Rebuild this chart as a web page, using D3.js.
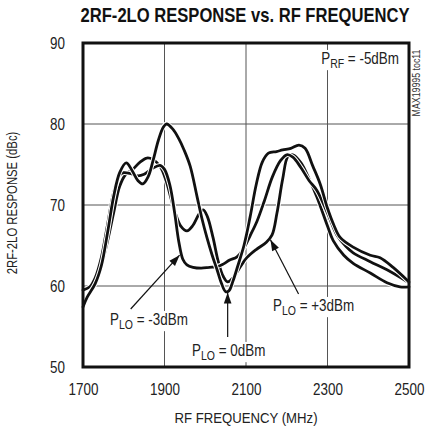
<!DOCTYPE html>
<html>
<head>
<meta charset="utf-8">
<script src="https://cdn.jsdelivr.net/npm/d3@7/dist/d3.min.js"></script>
<style>
  html, body { margin: 0; padding: 0; background: #fff; }
  svg { display: block; }
  text { font-family: "Liberation Sans", Arial, sans-serif; fill: #222; }
</style>
</head>
<body>
<svg id="chart" width="425" height="431"></svg>
<script>
// 2RF-2LO spur response vs RF frequency, PRF = -5dBm, three LO drive levels
const xTicks = [1700, 1900, 2100, 2300, 2500];
const yTicks = [50, 60, 70, 80, 90];

// PLO = 0dBm
const freq0dBm = [1700, 1710, 1730, 1745, 1760, 1775, 1790, 1806, 1820, 1835, 1847, 1860, 1872, 1885, 1897, 1905,
  1920, 1935, 1948, 1963, 1980, 1992, 2004, 2017, 2029, 2040, 2050, 2058, 2068, 2080, 2095, 2110, 2125, 2140, 2155,
  2175, 2190, 2210, 2230, 2245, 2264, 2282, 2300, 2315, 2331, 2363, 2405, 2429, 2461, 2500];
const resp0dBm = [57.4, 58.6, 60.3, 62.5, 66.5, 71.0, 74.0, 75.2, 74.3, 73.0, 72.6, 73.5, 75.5, 78.0, 79.6, 80.0,
  79.4, 78.2, 76.8, 74.8, 71.0, 68.3, 66.0, 63.8, 62.0, 60.3, 59.3, 59.4, 60.6, 62.5, 65.0, 68.5, 72.5, 75.3, 76.4,
  76.6, 76.8, 77.0, 77.4, 77.0, 74.8, 72.6, 69.6, 67.6, 66.0, 64.8, 63.8, 63.5, 62.3, 60.5];

// PLO = -3dBm
const freqM3dBm = [1700, 1717, 1730, 1745, 1760, 1775, 1790, 1800, 1815, 1835, 1850, 1870, 1889, 1900, 1913, 1925,
  1935, 1945, 1955, 1970, 1990, 2010, 2030, 2044, 2060, 2078, 2095, 2110, 2127, 2145, 2165, 2185, 2200, 2215, 2235,
  2255, 2274, 2300, 2323, 2345, 2363, 2405, 2446, 2500];
const respM3dBm = [59.5, 59.9, 61.0, 63.5, 67.5, 71.5, 73.7, 74.0, 73.9, 73.6, 73.8, 74.5, 74.9, 74.4, 72.5, 69.0,
  65.5, 63.3, 62.6, 62.3, 62.2, 62.3, 62.4, 62.7, 63.2, 63.6, 64.7, 66.2, 68.0, 70.5, 73.5, 75.5, 76.2, 75.9, 74.6,
  73.0, 71.8, 69.0, 66.3, 64.9, 64.1, 63.0, 62.0, 60.4];

// PLO = +3dBm
const freqP3dBm = [1700, 1717, 1730, 1745, 1760, 1775, 1790, 1805, 1820, 1840, 1857, 1872, 1889, 1904, 1915, 1928,
  1940, 1955, 1970, 1985, 1995, 2005, 2019, 2032, 2044, 2055, 2068, 2085, 2102, 2125, 2150, 2164, 2176, 2190, 2203,
  2215, 2235, 2255, 2274, 2300, 2314, 2340, 2363, 2405, 2446, 2478, 2500];
const respP3dBm = [59.5, 59.8, 60.5, 62.5, 65.5, 69.0, 72.3, 73.8, 74.3, 75.3, 75.8, 75.6, 74.8, 73.0, 71.0, 68.8,
  67.4, 66.8, 67.5, 68.9, 69.4, 68.6, 66.0, 63.0, 61.2, 60.5, 61.0, 62.3, 63.5, 64.5, 65.4, 66.3, 69.0, 73.2, 76.0,
  76.2, 75.2, 73.2, 71.0, 67.4, 65.6, 63.8, 62.8, 61.6, 60.4, 59.9, 59.9];

const series = [
  { f: freqP3dBm, v: respP3dBm },
  { f: freqM3dBm, v: respM3dBm },
  { f: freq0dBm, v: resp0dBm }
];

const margin = { left: 83, right: 16, top: 43, bottom: 64 };
const W = 425, H = 431;
const svg = d3.select("#chart");
const SX = 0.84; // horizontal squeeze giving a condensed face

const x = d3.scaleLinear().domain([1700, 2500]).range([margin.left, W - margin.right]);
const y = d3.scaleLinear().domain([50, 90]).range([H - margin.bottom, margin.top]);

// condensed text: placed at (px, py), squeezed horizontally
function ctext(px, py, str, size, anchor, opts) {
  opts = opts || {};
  const g = svg.append("g").attr("transform", `translate(${px},${py}) ${opts.rotate ? "rotate(" + opts.rotate + ")" : ""} scale(${opts.sx || SX},1)`);
  const t = g.append("text").attr("text-anchor", anchor || "start").style("font-size", size + "px").text(str);
  if (opts.bold) t.style("font-weight", "bold").style("fill", "#111");
  if (opts.fill) t.style("fill", opts.fill);
  return t;
}

// title
ctext(245, 22, "2RF-2LO RESPONSE vs. RF FREQUENCY", 20, "middle", { bold: true, sx: 0.83 });

// grid lines
const grid = svg.append("g").attr("stroke", "#555").attr("stroke-width", 1);
grid.selectAll("line.v").data(xTicks.slice(1, -1)).join("line")
  .attr("x1", d => x(d)).attr("x2", d => x(d))
  .attr("y1", y(90)).attr("y2", y(50));
grid.selectAll("line.h").data(yTicks.slice(1, -1)).join("line")
  .attr("x1", x(1700)).attr("x2", x(2500))
  .attr("y1", d => y(d)).attr("y2", d => y(d));

// axes (labels only; the frame is drawn separately)
const xAxis = d3.axisBottom(x).tickValues(xTicks).tickSize(0).tickPadding(17).tickFormat(d3.format("d"));
const yAxis = d3.axisLeft(y).tickValues(yTicks).tickSize(0).tickPadding(18).tickFormat(d3.format("d"));
const gx = svg.append("g").attr("transform", `translate(0,${y(50)})`).call(xAxis);
const gy = svg.append("g").attr("transform", `translate(${x(1700)},0)`).call(yAxis);
[gx, gy].forEach(g => {
  g.select(".domain").remove();
  g.selectAll("text").style("font-size", "16px").style("font-family", null).attr("fill", "#222")
    .attr("transform", `scale(${SX},1)`);
});
gy.selectAll("text").attr("x", -18 / SX);

// axis titles
ctext(x(2100), 423, "RF FREQUENCY (MHz)", 15.5, "middle", { sx: 0.85 });
ctext(17, y(70) - 2, "2RF-2LO RESPONSE (dBc)", 14.5, "middle", { rotate: -90, sx: 0.78 });

// curves: a white halo under each black trace keeps overlapping lines apart
const line = d3.line()
  .x(d => x(d[0])).y(d => y(d[1]))
  .curve(d3.curveCatmullRom.alpha(0.5));
const curves = svg.append("g").attr("fill", "none").attr("stroke-linejoin", "round").attr("stroke-linecap", "round");
series.forEach(s => {
  const pts = s.f.map((f, i) => [f, s.v[i]]);
  curves.append("path").attr("d", line(pts)).attr("stroke", "#fff").attr("stroke-width", 4.8);
  curves.append("path").attr("d", line(pts)).attr("stroke", "#111").attr("stroke-width", 2.8);
});

// power labels with a white backing that interrupts the grid
function powerLabel(px, py, sub, rest, anchor) {
  const g = svg.append("g").attr("transform", `translate(${px},${py}) scale(${SX},1)`);
  const t = g.append("text").attr("text-anchor", anchor || "start").style("font-size", "16px");
  t.append("tspan").text("P");
  t.append("tspan").attr("dy", 4).style("font-size", "12.5px").text(sub);
  t.append("tspan").attr("dy", -4).text(rest);
  const bb = t.node().getBBox();
  g.insert("rect", "text")
    .attr("x", bb.x - 2).attr("y", bb.y).attr("width", bb.width + 4).attr("height", bb.height)
    .attr("fill", "#fff");
}

function arrow(x1, y1, x2, y2) {
  svg.append("line").attr("x1", x1).attr("y1", y1).attr("x2", x2).attr("y2", y2)
    .attr("stroke", "#111").attr("stroke-width", 1.2);
  const a = Math.atan2(y2 - y1, x2 - x1), L = 11, w = 3.8;
  const bx = x2 - L * Math.cos(a), by = y2 - L * Math.sin(a);
  const p = [[x2, y2],
    [bx + w * Math.sin(a), by - w * Math.cos(a)],
    [bx - w * Math.sin(a), by + w * Math.cos(a)]];
  svg.append("path").attr("d", "M" + p.map(q => q.join(",")).join("L") + "Z").attr("fill", "#111");
}

powerLabel(x(2500) - 10, 64, "RF", " = -5dBm", "end");
powerLabel(110, 325, "LO", " = -3dBm");
powerLabel(192, 356, "LO", " = 0dBm");
powerLabel(273, 311, "LO", " = +3dBm");

arrow(x(1817), 309, x(1937), y(63.8));
arrow(x(2055), 337, x(2055), y(59.2));
arrow(x(2229), 294, x(2160), y(65.7));

// plot frame
svg.append("rect")
  .attr("x", x(1700)).attr("y", y(90))
  .attr("width", x(2500) - x(1700)).attr("height", y(50) - y(90))
  .attr("fill", "none").attr("stroke", "#111").attr("stroke-width", 3);

// figure code along the right edge
ctext(420, 83, "MAX19995 toc11", 11, "middle", { rotate: -90, sx: 0.8, fill: "#333" });
</script>
</body>
</html>
